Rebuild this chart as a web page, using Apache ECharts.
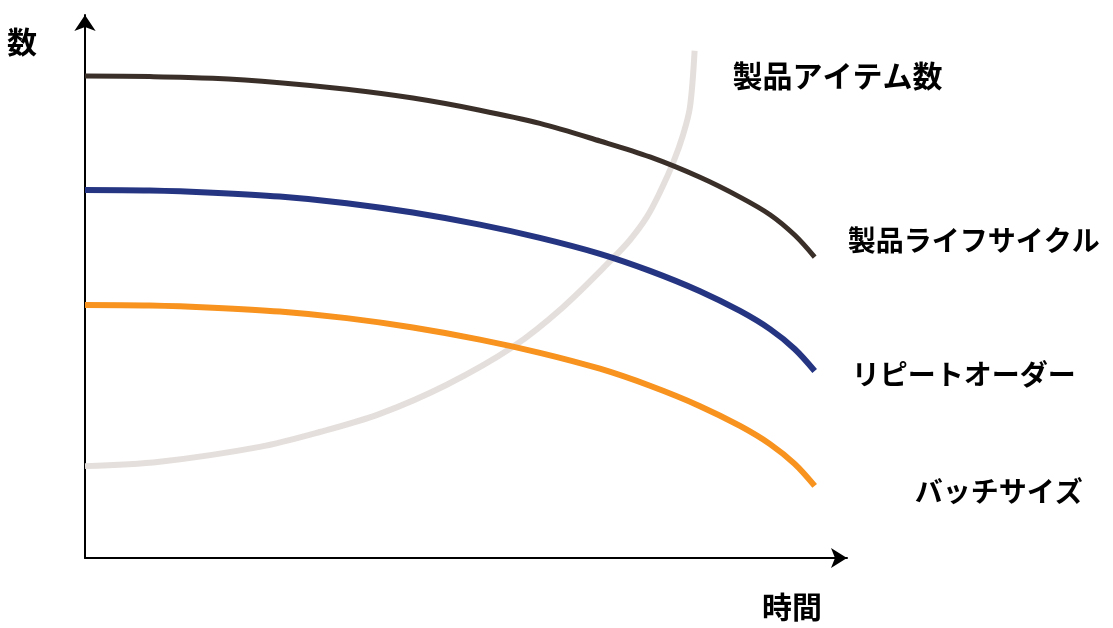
<!DOCTYPE html>
<html>
<head>
<meta charset="utf-8">
<script src="https://cdn.jsdelivr.net/npm/echarts@6/dist/echarts.min.js"></script>
<style>
html,body{margin:0;padding:0;background:#fff;}
#chart{width:1113px;height:628px;}
</style>
</head>
<body>
<div id="chart"></div>
<script>
// Shared time positions (0-100 scale) for the three declining curves
const timeX = [0, 8.4, 16.6, 25.3, 34.0, 42.6, 51.3, 59.1, 66.9, 73.4, 79.9, 85.1, 89.0, 92.2, 94.8];
// 製品ライフサイクル
const lifecycle = [87.6, 87.5, 87.2, 86.4, 85.2, 83.6, 81.4, 79.0, 75.8, 72.9, 69.2, 65.6, 62.4, 58.7, 54.7];
// リピートオーダー
const repeatOrder = [66.9, 66.8, 66.4, 65.7, 64.5, 62.8, 60.6, 58.2, 55.3, 52.2, 48.5, 44.9, 41.6, 38.0, 34.0];
// バッチサイズ
const batchSize = [46.0, 45.9, 45.5, 44.8, 43.6, 41.9, 39.7, 37.3, 34.4, 31.3, 27.6, 24.0, 20.7, 17.1, 13.1];
// 製品アイテム数 (rising curve)
const itemX = [0, 9.7, 22.7, 30.5, 38.3, 47.0, 55.6, 62.1, 68.6, 70.8, 73.0, 74.7, 76.4, 77.7, 78.6, 79.2];
const itemY = [16.7, 17.5, 20.2, 22.9, 26.2, 31.5, 38.4, 45.6, 54.5, 57.8, 62.0, 66.5, 71.8, 76.9, 82.0, 92.2];

const names = ['製品アイテム数', '製品ライフサイクル', 'リピートオーダー', 'バッチサイズ'];
const xName = '時間';
const yName = '数';

const zip = (xs, ys) => xs.map((x, i) => [x, ys[i]]);
const labelFont = {fontFamily: 'Noto Sans CJK JP', fontWeight: 'bold', color: '#000'};

function mk(name, data, color, width, offset, fontSize, z) {
  return {
    name: name, type: 'line', data: data, smooth: 0.33,
    showSymbol: false, symbol: 'none', z: z,
    lineStyle: {color: color, width: width, cap: 'butt'},
    endLabel: Object.assign({show: true, formatter: name, distance: 0, offset: offset, fontSize: fontSize}, labelFont),
    silent: true
  };
}

const chart = echarts.init(document.getElementById('chart'), null, {renderer: 'canvas'});
chart.setOption({
  animation: false,
  backgroundColor: '#fff',
  grid: {left: 85, right: 266, top: 15, bottom: 70, containLabel: false},
  xAxis: {
    type: 'value', min: 0, max: 99,
    name: xName, nameLocation: 'end', nameGap: -85,
    nameTextStyle: {fontFamily: 'Noto Sans CJK JP', fontWeight: 'bold', fontSize: 30, color: '#000', align: 'left', verticalAlign: 'top', padding: [34, 0, 0, 0]},
    axisLine: {show: true, lineStyle: {color: '#000', width: 2}, symbol: ['none', 'arrow'], symbolSize: [15, 16]},
    axisTick: {show: false}, axisLabel: {show: false}, splitLine: {show: false}
  },
  yAxis: {
    type: 'value', min: 0, max: 98.7,
    name: yName, nameLocation: 'end', nameGap: -12,
    nameTextStyle: {fontFamily: 'Noto Sans CJK JP', fontWeight: 'bold', fontSize: 30, color: '#000', align: 'right', verticalAlign: 'top', padding: [0, 48, 0, 0]},
    axisLine: {show: true, lineStyle: {color: '#000', width: 2}, symbol: ['none', 'arrow'], symbolSize: [16, 16]},
    axisTick: {show: false}, axisLabel: {show: false}, splitLine: {show: false}
  },
  series: [
    mk(names[0], zip(itemX, itemY), '#e4dfdc', 6, [38, 25], 30, 1),
    mk(names[1], zip(timeX, lifecycle), '#3b3029', 5, [33, -17], 28, 2),
    mk(names[2], zip(timeX, repeatOrder), '#253582', 6, [37, 3], 28, 2),
    mk(names[3], zip(timeX, batchSize), '#f7931e', 6, [100, 5], 28, 2)
  ]
});
</script>
</body>
</html>
